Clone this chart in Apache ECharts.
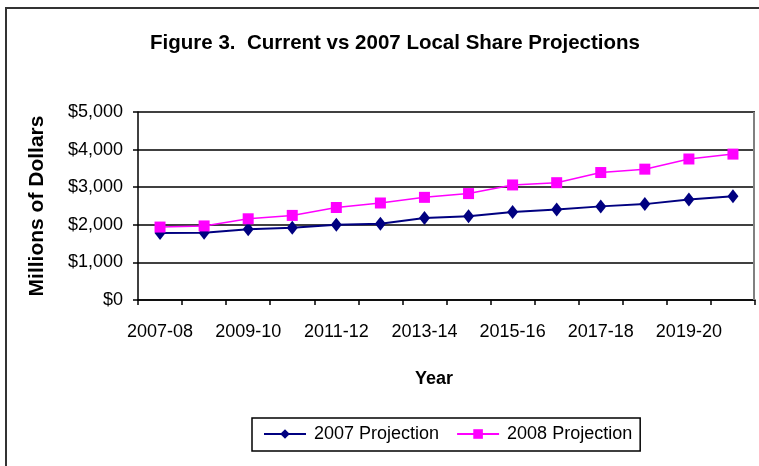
<!DOCTYPE html>
<html>
<head>
<meta charset="utf-8">
<script src="https://cdn.jsdelivr.net/npm/echarts@6/dist/echarts.min.js"></script>
<style>
  html, body { margin: 0; padding: 0; background: #fff; }
  #chart { width: 759px; height: 466px; }
</style>
</head>
<body>
<div id="chart"></div>
<script>
// Fiscal years on the horizontal axis
const years = ['2007-08', '2008-09', '2009-10', '2010-11', '2011-12', '2012-13', '2013-14',
  '2014-15', '2015-16', '2016-17', '2017-18', '2018-19', '2019-20', '2020-21'];

// Local share projections, millions of dollars
const projection2007 = [1780, 1790, 1880, 1920, 2000, 2030, 2180, 2230, 2340, 2410, 2490, 2550, 2670, 2760];
const projection2008 = [1940, 1970, 2160, 2250, 2460, 2580, 2730, 2830, 3060, 3120, 3390, 3480, 3750, 3880];

// Value axis ticks
const yTicks = [0, 1000, 2000, 3000, 4000, 5000];

const FONT = '"Liberation Sans", Arial, sans-serif';

const chart = echarts.init(document.getElementById('chart'), null, { renderer: 'canvas' });

const dollars = v => '$' + v.toLocaleString('en-US');

chart.setOption({
  animation: false,
  backgroundColor: '#fff',
  textStyle: { fontFamily: FONT, color: '#000' },
  title: {
    text: 'Figure 3.  Current vs 2007 Local Share Projections',
    left: 390, top: 28, textAlign: 'center',
    textStyle: { fontFamily: FONT, fontSize: 20.5, fontWeight: 'bold', color: '#000' }
  },
  graphic: [
    {
      type: 'rect', silent: true, z: -1,
      shape: { x: 6, y: 8, width: 780, height: 500 },
      style: { fill: 'none', stroke: '#333', lineWidth: 2 }
    },
    {
      type: 'text', left: 415, top: 370,
      style: { text: 'Year', fontFamily: FONT, fontSize: 18, fontWeight: 'bold', fill: '#000' }
    }
  ],
  legend: {
    left: 252, top: 418,
    padding: [7, 8, 8, 11],
    itemGap: 17,
    itemWidth: 42, itemHeight: 12,
    borderColor: '#000', borderWidth: 1.5,
    textStyle: { fontFamily: FONT, fontSize: 18, color: '#000', padding: [0, 0, 0, 3] },
    data: ['2007 Projection', '2008 Projection']
  },
  grid: { left: 138, right: 4, top: 112, bottom: 166, containLabel: false, show: false },
  xAxis: {
    type: 'category',
    data: years,
    boundaryGap: true,
    axisLine: { lineStyle: { color: '#000', width: 1.5 } },
    axisTick: { show: true, interval: 0, length: 5, lineStyle: { color: '#000', width: 1.5 } },
    axisLabel: { interval: 1, margin: 23, fontFamily: FONT, fontSize: 18, color: '#000' },
    splitLine: { show: false }
  },
  yAxis: {
    type: 'value',
    min: yTicks[0], max: yTicks[yTicks.length - 1], interval: 1000,
    name: 'Millions of Dollars',
    nameLocation: 'middle', nameGap: 90, nameRotate: 90,
    nameTextStyle: { fontFamily: FONT, fontSize: 21, fontWeight: 'bold', color: '#000' },
    axisLine: { show: true, lineStyle: { color: '#000', width: 1.5 } },
    axisTick: { show: true, length: 5, lineStyle: { color: '#000', width: 1.5 } },
    axisLabel: { margin: 15, fontFamily: FONT, fontSize: 18, color: '#000', formatter: dollars },
    splitLine: { show: true, lineStyle: { color: '#000', width: 1.5 } }
  },
  series: [
    {
      name: '2007 Projection', type: 'line', data: projection2007,
      symbol: 'diamond', symbolSize: [11, 14], showAllSymbol: true,
      itemStyle: { color: '#000080' },
      lineStyle: { color: '#000080', width: 2 },
      z: 3
    },
    {
      name: '2008 Projection', type: 'line', data: projection2008,
      symbol: 'rect', symbolSize: 11, showAllSymbol: true,
      itemStyle: { color: '#FF00FF' },
      lineStyle: { color: '#FF00FF', width: 1.5 },
      z: 4
    },
    {
      // gray right border of the plot area
      type: 'line', silent: true, data: [], markLine: {
        silent: true, symbol: 'none', label: { show: false },
        lineStyle: { color: '#808080', width: 2, type: 'solid' },
        data: [[{ x: 754, y: 300 }, { x: 754, y: 112 }]]
      }
    }
  ]
});
</script>
</body>
</html>
